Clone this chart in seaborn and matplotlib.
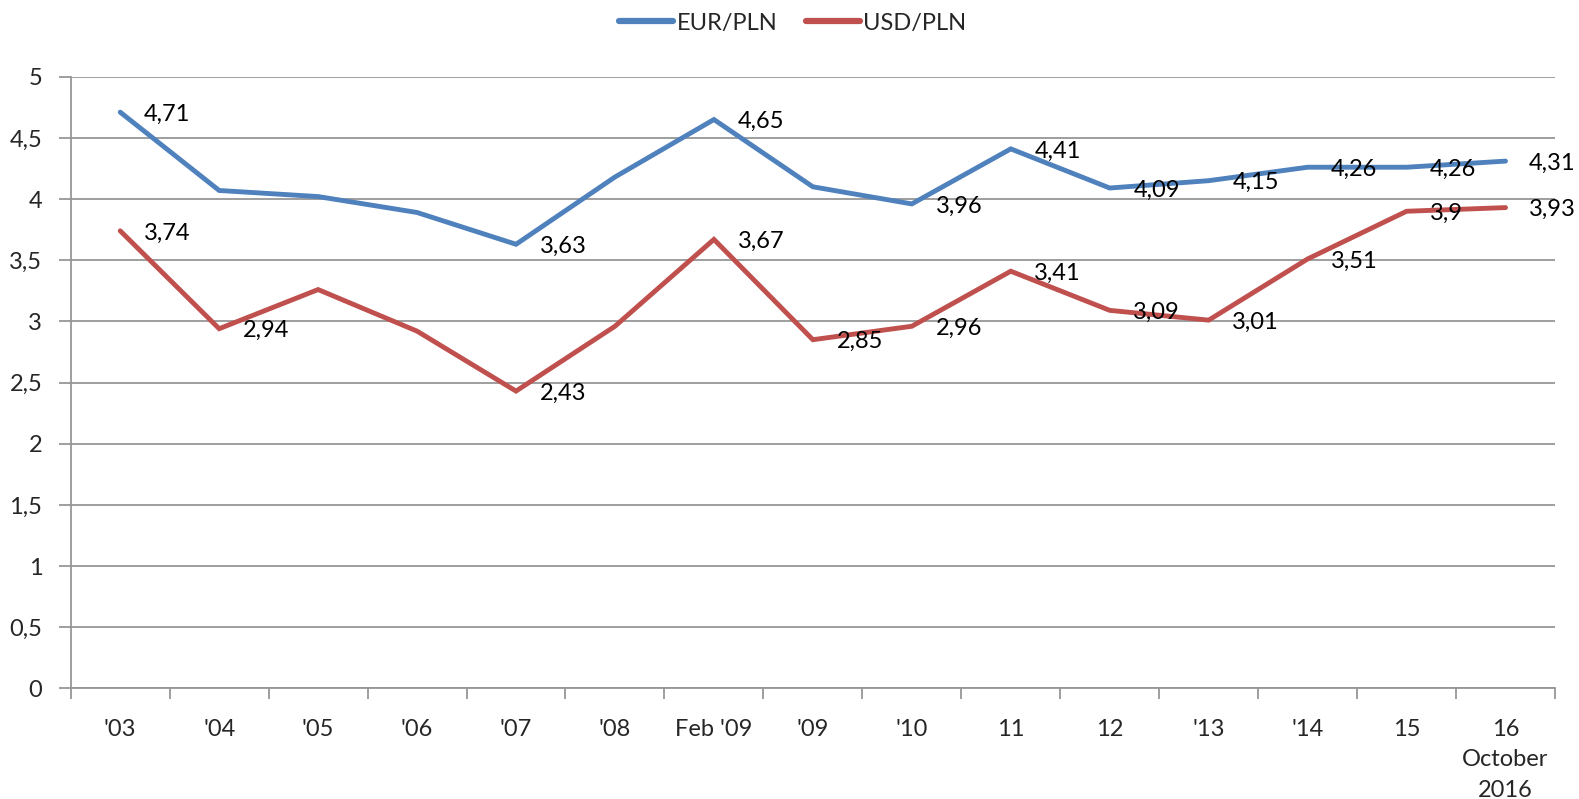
import matplotlib
matplotlib.use("Agg")
import matplotlib.pyplot as plt
import seaborn as sns
import pandas as pd
import numpy as np
from matplotlib.lines import Line2D

categories = ["'03", "'04", "'05", "'06", "'07", "'08", "Feb '09", "'09", "'10",
              "11", "12", "'13", "'14", "15", "16\nOctober\n2016"]
eur_pln = [4.71, 4.07, 4.02, 3.89, 3.63, 4.18, 4.65, 4.10, 3.96, 4.41, 4.09, 4.15, 4.26, 4.26, 4.31]
usd_pln = [3.74, 2.94, 3.26, 2.92, 2.43, 2.96, 3.67, 2.85, 2.96, 3.41, 3.09, 3.01, 3.51, 3.90, 3.93]
eur_labels = ["4,71", None, None, None, "3,63", None, "4,65", None, "3,96", "4,41",
              "4,09", "4,15", "4,26", "4,26", "4,31"]
usd_labels = ["3,74", "2,94", None, None, "2,43", None, "3,67", "2,85", "2,96", "3,41",
              "3,09", "3,01", "3,51", "3,9", "3,93"]
y_ticks = [0, 0.5, 1, 1.5, 2, 2.5, 3, 3.5, 4, 4.5, 5]
y_tick_labels = ["0", "0,5", "1", "1,5", "2", "2,5", "3", "3,5", "4", "4,5", "5"]
series_names = ["EUR/PLN", "USD/PLN"]
colors = ["#4F81BD", "#C0504D"]

sns.set_style("white")
plt.rcParams['font.family'] = ['Lato', 'DejaVu Sans']
FS = 17

n = len(categories)
pos = np.arange(n)
df = pd.DataFrame({
    "pos": np.concatenate([pos, pos]),
    "value": eur_pln + usd_pln,
    "series": [series_names[0]] * n + [series_names[1]] * n,
})

fig = plt.figure(figsize=(15.79, 7.99), dpi=100)
ax = fig.add_axes([0.0448, 0.1385, 0.9400, 0.7655])

sns.lineplot(data=df, x="pos", y="value", hue="series", palette=colors,
             linewidth=3.5, ax=ax, legend=False, sort=False)
for line in ax.get_lines():
    line.set_solid_capstyle("round")
    line.set_solid_joinstyle("miter")

for vals, labs in [(eur_pln, eur_labels), (usd_pln, usd_labels)]:
    for i, (v, lab) in enumerate(zip(vals, labs)):
        if lab is None:
            continue
        ax.annotate(lab, (i, v), xytext=(17, -1.5), textcoords="offset points",
                    ha="left", va="center", fontsize=FS, color="black")

ax.set_xlim(-0.5, n - 0.5)
ax.set_ylim(0, 5)
ax.set_yticks(y_ticks)
ax.set_yticklabels(y_tick_labels)
ax.yaxis.grid(True, color="#969696", linewidth=1.3)
ax.set_axisbelow(True)

ax.set_xticks(np.arange(n + 1) - 0.5)
ax.set_xticklabels([])
ax.set_xticks(pos, minor=True)
ax.set_xticklabels(categories, minor=True)
ax.tick_params(axis="x", which="major", direction="out", length=8, width=1.3,
               color="#969696", bottom=True)
ax.tick_params(axis="x", which="minor", length=0, pad=22, labelsize=FS)
ax.tick_params(axis="y", direction="out", length=8.5, width=1.3, color="#969696",
               left=True, pad=12, labelsize=FS)
for lbl in ax.get_xticklabels(minor=True):
    lbl.set_linespacing(1.55)
    lbl.set_verticalalignment("top")

for s in ["top", "right"]:
    ax.spines[s].set_visible(False)
for s in ["left", "bottom"]:
    ax.spines[s].set_color("#969696")
    ax.spines[s].set_linewidth(1.3)

ax.set_xlabel("")
ax.set_ylabel("")

handles = [Line2D([0], [0], color=c, linewidth=4.5, solid_capstyle="round") for c in colors]
fig.legend(handles, series_names, loc="center", bbox_to_anchor=(0.502, 0.971), ncol=2,
           frameon=False, fontsize=FS, handlelength=2.3, handletextpad=0.15,
           columnspacing=1.2)

fig.savefig("out.png", dpi=100)
